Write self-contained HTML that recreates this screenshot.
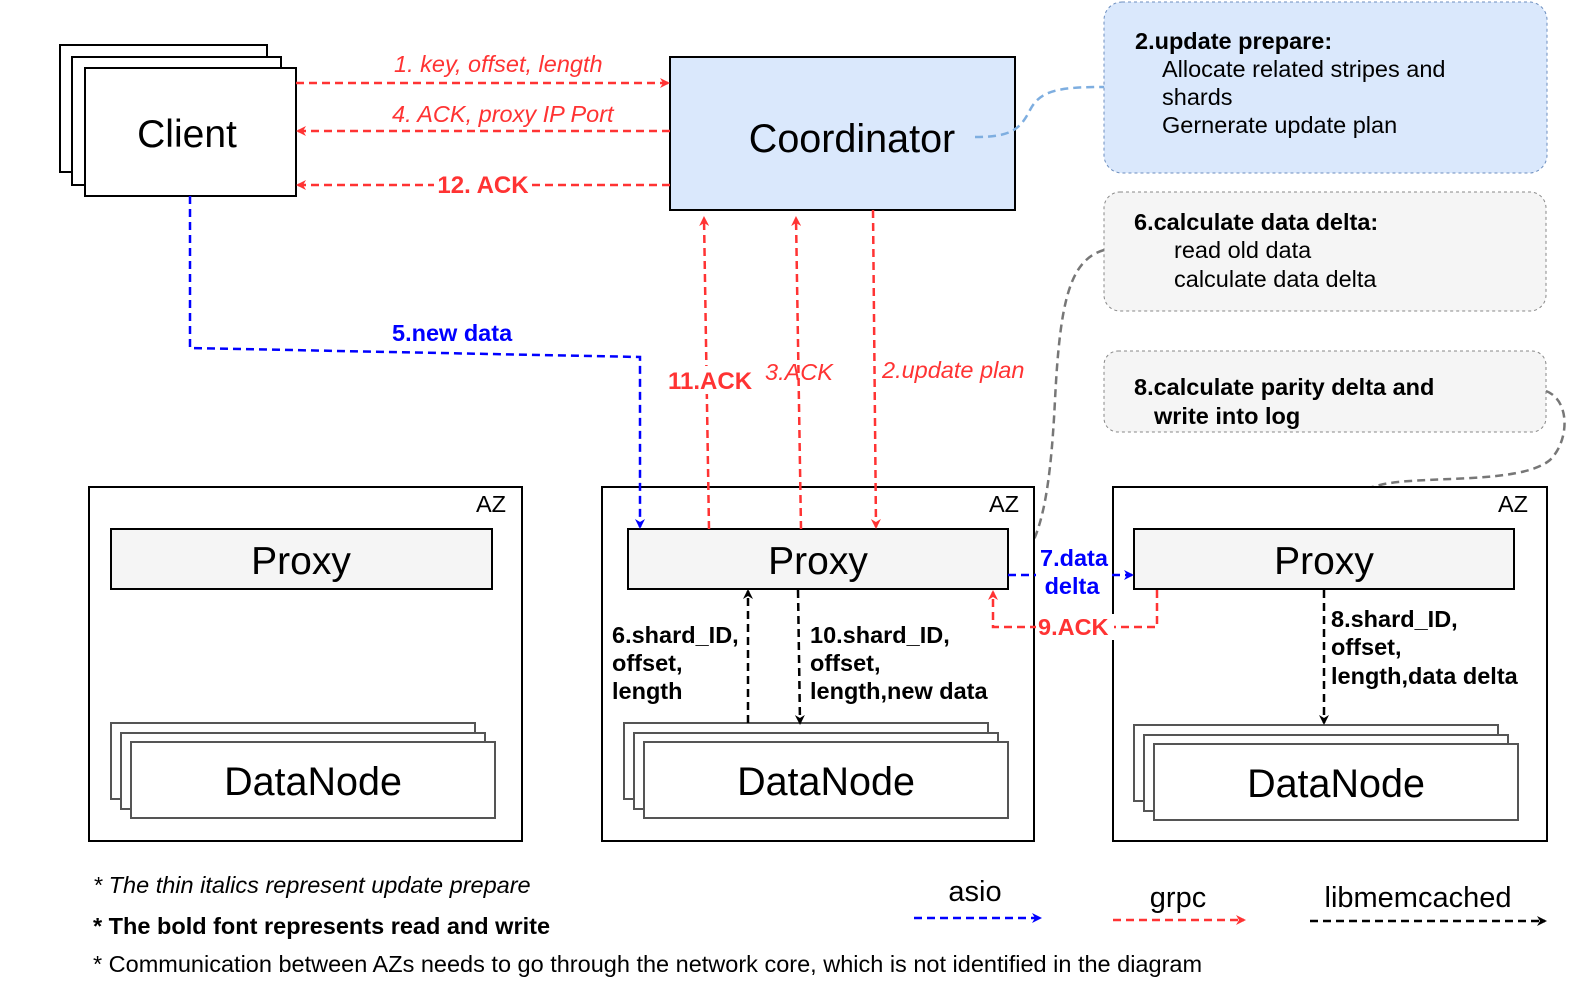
<!DOCTYPE html>
<html><head><meta charset="utf-8"><style>
html,body{margin:0;padding:0;background:#fff;overflow:hidden;width:1592px;height:996px}
svg{display:block;width:1592px;height:996px}
text{font-family:"Liberation Sans",Arial,sans-serif}
</style></head><body>
<svg width="1592" height="996" viewBox="0 0 1592 996" xmlns="http://www.w3.org/2000/svg">
<defs>
<marker id="r" markerWidth="10" markerHeight="10" refX="8" refY="5" orient="auto" markerUnits="userSpaceOnUse"><path d="M0,0 L10,5 L0,10 L3,5 z" fill="#f33"/></marker>
<marker id="b" markerWidth="10" markerHeight="10" refX="8" refY="5" orient="auto" markerUnits="userSpaceOnUse"><path d="M0,0 L10,5 L0,10 L3,5 z" fill="#00f"/></marker>
<marker id="k" markerWidth="10" markerHeight="10" refX="8" refY="5" orient="auto" markerUnits="userSpaceOnUse"><path d="M0,0 L10,5 L0,10 L3,5 z" fill="#000"/></marker>
</defs>
<rect x="60" y="45" width="207" height="127" fill="#fff" stroke="#000" stroke-width="2"/>
<rect x="72" y="57" width="209" height="128" fill="#fff" stroke="#000" stroke-width="2"/>
<rect x="85" y="68" width="211" height="128" fill="#fff" stroke="#000" stroke-width="2"/>
<text x="187" y="147" font-size="39" text-anchor="middle">Client</text>
<rect x="670" y="57" width="345" height="153" fill="#dae8fc" stroke="#000" stroke-width="2"/>
<text x="852" y="152" font-size="39.5" text-anchor="middle">Coordinator</text>
<rect x="1104" y="2" width="443" height="171" rx="18" fill="#dae8fc" stroke="#6c8ebf" stroke-dasharray="3,3"/>
<text font-size="23.5"><tspan x="1135" y="49" font-weight="bold">2.update prepare:</tspan><tspan x="1162" y="77">Allocate related stripes and</tspan><tspan x="1162" y="105">shards</tspan><tspan x="1162" y="133">Gernerate update plan</tspan></text>
<rect x="1104" y="192" width="442" height="119" rx="16" fill="#f5f5f5" stroke="#888" stroke-dasharray="3,3"/>
<text font-size="23.5"><tspan x="1134" y="230" font-weight="bold">6.calculate data delta:</tspan><tspan x="1174" y="258">read old data</tspan><tspan x="1174" y="287">calculate data delta</tspan></text>
<rect x="1104" y="351" width="442" height="81" rx="14" fill="#f5f5f5" stroke="#888" stroke-dasharray="3,3"/>
<text font-size="23.5" font-weight="bold"><tspan x="1134" y="395">8.calculate parity delta and</tspan><tspan x="1154" y="424">write into log</tspan></text>
<path d="M975,137 C1010,137 1020,130 1030,110 C1040,90 1060,87 1104,87" fill="none" stroke="#7eaee0" stroke-width="2.5" stroke-dasharray="8,5"/>
<path d="M1104,250 C1070,260 1060,300 1055,400 C1050,500 1040,550 1010,572" fill="none" stroke="#777" stroke-width="2.5" stroke-dasharray="8,5"/>
<path d="M1546,391 C1570,400 1570,440 1550,460 C1520,485 1420,475 1380,485 C1340,495 1325,505 1325,529" fill="none" stroke="#777" stroke-width="2.5" stroke-dasharray="8,5"/>
<g fill="#fff" stroke="#000" stroke-width="2">
<rect x="89" y="487" width="433" height="354"/>
<rect x="602" y="487" width="432" height="354"/>
<rect x="1113" y="487" width="434" height="354"/>
</g>
<g font-size="23.5"><text x="476" y="512">AZ</text><text x="989" y="512">AZ</text><text x="1498" y="512">AZ</text></g>
<g fill="#f5f5f5" stroke="#000" stroke-width="2">
<rect x="111" y="529" width="381" height="60"/>
<rect x="628" y="529" width="380" height="60"/>
<rect x="1134" y="529" width="380" height="60"/>
</g>
<g font-size="39" text-anchor="middle"><text x="301" y="574">Proxy</text><text x="818" y="574">Proxy</text><text x="1324" y="574">Proxy</text></g>
<g fill="#fff" stroke="#555" stroke-width="2">
<rect x="111" y="723" width="364" height="76"/><rect x="121" y="733" width="364" height="76"/><rect x="131" y="742" width="364" height="76"/>
<rect x="624" y="723" width="364" height="76"/><rect x="634" y="733" width="364" height="76"/><rect x="644" y="742" width="364" height="76"/>
<rect x="1134" y="725" width="364" height="76"/><rect x="1144" y="735" width="364" height="76"/><rect x="1154" y="744" width="364" height="76"/>
</g>
<g font-size="39.5" text-anchor="middle"><text x="313" y="795">DataNode</text><text x="826" y="795">DataNode</text><text x="1336" y="797">DataNode</text></g>
<g stroke="#f33" stroke-width="2.5" stroke-dasharray="8,5" fill="none">
<line x1="296" y1="83" x2="668" y2="83" marker-end="url(#r)"/>
<line x1="670" y1="131" x2="298" y2="131" marker-end="url(#r)"/>
<line x1="670" y1="185" x2="298" y2="185" marker-end="url(#r)"/>
<line x1="709" y1="529" x2="704" y2="218" marker-end="url(#r)"/>
<line x1="801" y1="529" x2="796" y2="218" marker-end="url(#r)"/>
<line x1="873" y1="210" x2="876" y2="527" marker-end="url(#r)"/>
<polyline points="1157,590 1157,627 993,627 993,592" marker-end="url(#r)"/>
</g>
<rect x="434" y="172" width="98" height="26" fill="#fff"/>
<text x="483" y="193" font-size="24" font-weight="bold" fill="#f33" text-anchor="middle">12. ACK</text>
<g font-size="23.5" font-style="italic" fill="#f33">
<text x="394" y="72">1. key, offset, length</text>
<text x="392" y="122">4. ACK, proxy IP Port</text>
<text x="765" y="380">3.ACK</text>
<text x="882" y="378">2.update plan</text>
</g>
<rect x="666" y="366" width="88" height="28" fill="#fff"/>
<text x="668" y="389" font-size="24" font-weight="bold" fill="#f33">11.ACK</text>
<rect x="1036" y="614" width="78" height="26" fill="#fff"/>
<text x="1038" y="635" font-size="23.5" font-weight="bold" fill="#f33">9.ACK</text>
<g stroke="#00f" stroke-width="2.5" stroke-dasharray="8,5" fill="none">
<polyline points="190,196 190,348 640,357 640,527" marker-end="url(#b)"/>
<line x1="1008" y1="575" x2="1132" y2="575" marker-end="url(#b)"/>
</g>
<text x="392" y="341" font-size="23.5" font-weight="bold" fill="#00f">5.new data</text>
<rect x="1036" y="546" width="76" height="54" fill="#fff"/>
<text font-size="23.5" font-weight="bold" fill="#00f" text-anchor="middle"><tspan x="1074" y="566">7.data</tspan><tspan x="1072" y="594">delta</tspan></text>
<g stroke="#000" stroke-width="2.5" stroke-dasharray="8,5" fill="none">
<line x1="748" y1="723" x2="748" y2="591" marker-end="url(#k)"/>
<line x1="798" y1="590" x2="800" y2="723" marker-end="url(#k)"/>
<line x1="1324" y1="590" x2="1324" y2="723" marker-end="url(#k)"/>
</g>
<g font-size="23.5" font-weight="bold">
<text><tspan x="612" y="643">6.shard_ID,</tspan><tspan x="612" y="671">offset,</tspan><tspan x="612" y="699">length</tspan></text>
<text><tspan x="810" y="643">10.shard_ID,</tspan><tspan x="810" y="671">offset,</tspan><tspan x="810" y="699">length,new data</tspan></text>
<text><tspan x="1331" y="627">8.shard_ID,</tspan><tspan x="1331" y="655">offset,</tspan><tspan x="1331" y="684">length,data delta</tspan></text>
</g>
<text x="93" y="893" font-size="23.5" font-style="italic">* The thin italics represent update prepare</text>
<text x="93" y="934" font-size="23.5" font-weight="bold">* The bold font represents read and write</text>
<text x="93" y="972" font-size="23.5">* Communication between AZs needs to go through the network core, which is not identified in the diagram</text>
<g font-size="29" text-anchor="middle"><text x="975" y="901">asio</text><text x="1178" y="907">grpc</text><text x="1418" y="907">libmemcached</text></g>
<line x1="914" y1="918" x2="1040" y2="918" stroke="#00f" stroke-width="2.5" stroke-dasharray="8,5" marker-end="url(#b)"/>
<line x1="1113" y1="920" x2="1244" y2="920" stroke="#f33" stroke-width="2.5" stroke-dasharray="8,5" marker-end="url(#r)"/>
<line x1="1310" y1="921" x2="1545" y2="921" stroke="#000" stroke-width="2.5" stroke-dasharray="8,5" marker-end="url(#k)"/>
</svg>
</body></html>
